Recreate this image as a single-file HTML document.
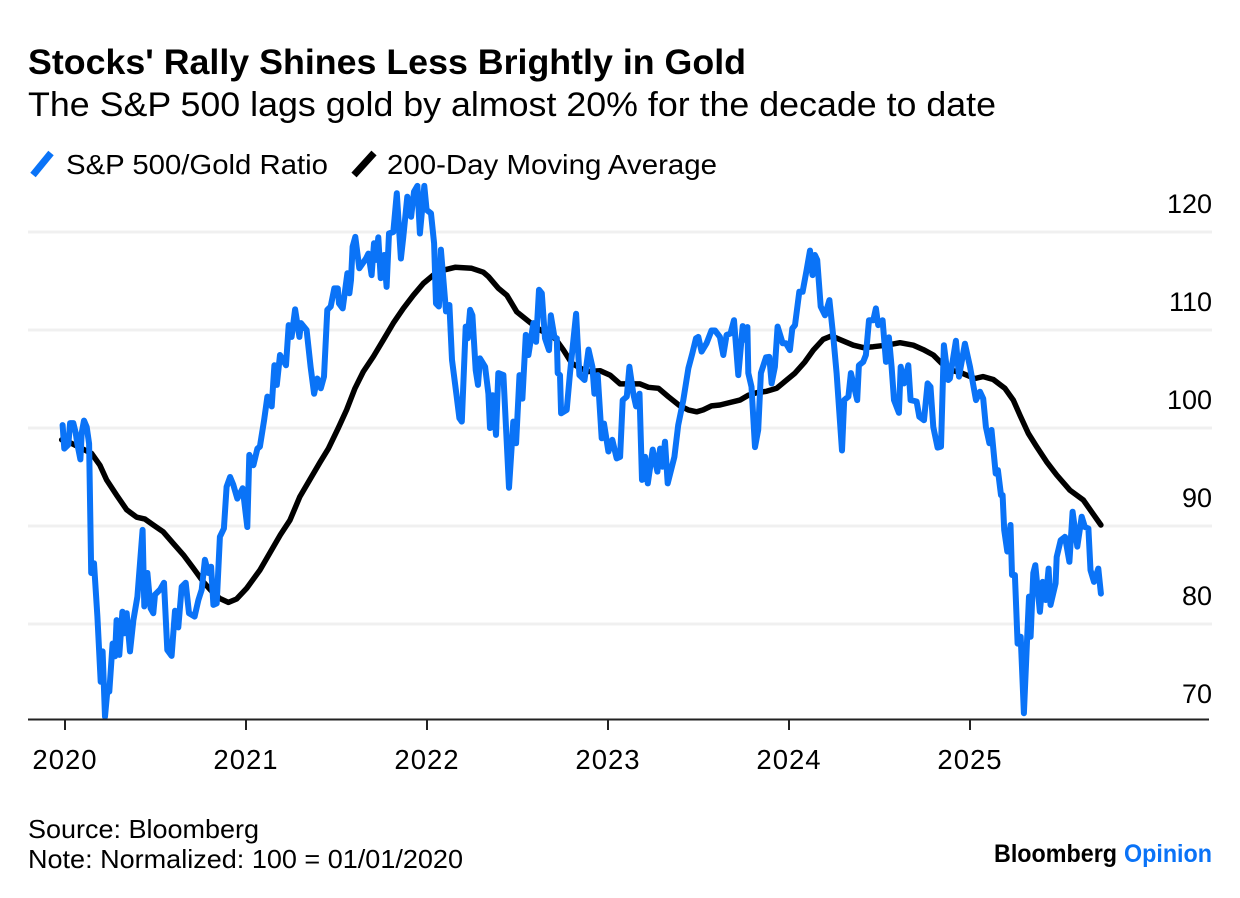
<!DOCTYPE html>
<html lang="en">
<head>
<meta charset="utf-8">
<title>Stocks' Rally Shines Less Brightly in Gold</title>
<style>
html,body{margin:0;padding:0;background:#fff;}
svg{display:block;font-family:"Liberation Sans",sans-serif;fill:#000;}
</style>
</head>
<body>
<svg id="chart" xmlns="http://www.w3.org/2000/svg" width="1240" height="898" viewBox="0 0 1240 898">
  <rect x="0" y="0" width="1240" height="898" fill="#ffffff"/>
  <text x="28" y="74" font-size="35.5" font-weight="700" textLength="718" lengthAdjust="spacingAndGlyphs">Stocks' Rally Shines Less Brightly in Gold</text>
  <text x="28" y="116" font-size="34" textLength="968" lengthAdjust="spacingAndGlyphs">The S&amp;P 500 lags gold by almost 20% for the decade to date</text>

  <g>
    <line x1="33" y1="175" x2="51" y2="153" stroke="#0a73f7" stroke-width="7"/>
    <text x="66" y="174" font-size="28" textLength="262" lengthAdjust="spacingAndGlyphs">S&amp;P 500/Gold Ratio</text>
    <line x1="354" y1="175" x2="374" y2="153" stroke="#000000" stroke-width="7"/>
    <text x="387" y="174" font-size="28" textLength="330" lengthAdjust="spacingAndGlyphs">200-Day Moving Average</text>
  </g>

  <g id="grid"></g>
  <g id="yLabels"></g>
  <polyline id="avgLine" fill="none" stroke="#000000" stroke-width="5.5" stroke-linejoin="round" stroke-linecap="round"/>
  <polyline id="ratioLine" fill="none" stroke="#0a73f7" stroke-width="6" stroke-linejoin="round" stroke-linecap="round"/>
  <line x1="28" y1="719.5" x2="1209" y2="719.5" stroke="#222222" stroke-width="2"/>
  <g id="xTicks"></g>
  <g id="xLabels"></g>

  <text x="28" y="838" font-size="26" textLength="231" lengthAdjust="spacingAndGlyphs">Source: Bloomberg</text>
  <text x="28" y="868" font-size="26" textLength="435" lengthAdjust="spacingAndGlyphs">Note: Normalized: 100 = 01/01/2020</text>
  <text x="994" y="862" font-size="25" font-weight="700" textLength="123" lengthAdjust="spacingAndGlyphs">Bloomberg</text>
  <text x="1124" y="862" font-size="25" font-weight="700" fill="#0a73f7" textLength="88" lengthAdjust="spacingAndGlyphs">Opinion</text>
</svg>
<script>
const yTickValues = [120, 110, 100, 90, 80, 70];
const gridValues = [120, 110, 100, 90, 80];
const xTickYears = [2020, 2021, 2022, 2023, 2024, 2025];

const ratioYears = [-0.013,-0.004,0.018,0.028,0.046,0.059,0.068,0.085,0.092,0.105,0.120,0.133,0.145,0.160,0.179,0.197,0.208,0.221,0.234,0.245,0.263,0.276,0.285,0.300,0.317,0.328,0.341,0.359,0.378,0.400,0.429,0.438,0.455,0.473,0.488,0.497,0.525,0.547,0.565,0.589,0.608,0.626,0.645,0.667,0.685,0.716,0.737,0.755,0.773,0.792,0.807,0.820,0.838,0.856,0.878,0.893,0.912,0.930,0.952,0.982,1.007,1.018,1.041,1.063,
1.077,1.100,1.118,1.142,1.157,1.170,1.188,1.221,1.236,1.252,1.271,1.295,1.304,1.335,1.357,1.376,1.394,1.413,1.431,1.449,1.468,1.488,1.507,1.514,1.534,1.560,1.571,1.580,1.589,1.604,1.626,1.663,1.676,1.694,1.707,1.718,1.731,1.744,1.763,1.777,1.790,1.814,1.833,1.856,1.869,1.891,1.912,1.928,1.947,1.961,1.985,1.998,2.022,2.039,2.050,2.066,2.077,2.105,2.124,2.138,2.164,2.179,2.192,2.214,2.225,2.238,2.251,2.269,2.282,2.293,2.321,2.339,2.348,2.363,2.381,2.394,
2.422,2.453,2.477,2.492,2.511,2.527,2.546,2.560,2.588,2.603,2.619,2.634,2.652,2.674,2.684,2.704,2.717,2.722,2.735,2.741,2.772,2.790,2.824,2.842,2.870,2.892,2.914,2.925,2.943,2.965,2.978,3.002,3.024,3.048,3.067,3.081,3.104,3.118,3.140,3.155,3.174,3.188,3.205,3.220,3.247,3.273,3.288,3.301,3.315,3.330,3.367,
3.388,3.416,3.444,3.466,3.486,3.499,3.517,3.545,3.572,3.591,3.618,3.637,3.655,3.677,3.696,3.720,3.744,3.757,3.770,3.775,3.793,3.812,3.830,3.845,3.873,3.891,3.904,3.922,3.937,3.965,3.983,4.005,4.018,4.033,4.057,4.075,4.097,4.116,4.130,4.143,4.156,4.175,4.199,4.223,4.245,4.263,4.293,4.305,4.328,4.342,4.377,4.386,4.410,4.425,4.442,4.466,4.480,4.493,4.517,4.536,4.552,4.567,4.580,4.607,4.617,4.635,4.659,4.672,4.705,4.720,
4.746,4.766,4.782,4.797,4.821,4.840,4.856,4.880,4.889,4.922,4.939,4.972,5.000,5.033,5.055,5.073,5.088,5.107,5.119,5.142,5.154,5.171,5.180,5.189,5.206,5.224,5.232,5.248,5.263,5.280,5.298,5.316,5.326,5.335,5.350,5.361,5.386,5.401,5.418,5.434,5.445,5.473,5.479,5.501,5.525,5.549,5.567,5.593,5.617,5.635,5.654,5.666,5.685,5.709,5.723];

const ratioValues = [100.3,97.9,98.3,100.5,100.5,99.5,98.4,96.8,99.5,100.75,100.1,98.4,85.2,86.2,80.75,74.1,77.2,70.55,73.25,73.1,78.0,76.7,80.4,76.85,81.25,79.05,81.1,77.2,80.4,82.8,89.6,81.8,85.2,81.6,81.1,83.0,83.5,84.2,77.35,76.75,81.35,79.65,83.8,84.2,81.1,80.75,82.45,83.5,86.55,85.2,85.85,81.95,82.1,88.9,89.75,94.0,95.0,94.2,92.8,93.85,89.9,97.25,96.2,97.9,
98.1,100.8,103.2,102.2,106.4,104.4,107.45,106.4,110.5,109.3,112.1,109.3,110.7,110.0,106.25,103.5,105.05,104.05,105.25,112.05,112.4,114.25,114.25,112.7,112.2,115.8,113.75,115.1,118.5,119.5,116.3,117.3,117.8,115.6,118.85,117.15,119.45,115.3,117.65,114.4,119.85,120.0,123.95,117.3,119.5,123.6,121.55,124.1,124.7,119.85,124.7,122.25,121.9,118.85,112.7,112.4,118.2,111.9,112.55,106.95,103.2,101.0,100.65,110.35,109.15,112.05,111.5,105.9,104.4,107.1,106.25,103.5,100.0,103.35,99.3,105.6,
105.4,93.9,100.65,98.45,105.4,103.0,109.5,107.45,110.7,108.8,114.1,113.75,109.15,107.95,111.5,109.3,109.15,105.6,105.4,101.5,101.85,105.6,111.65,105.4,104.9,108.0,106.25,103.5,105.4,98.95,100.45,97.6,98.8,96.9,97.05,102.85,103.2,106.25,103.5,102.2,103.5,94.7,97.05,94.35,97.8,95.55,97.9,96.05,98.6,94.35,97.05,
100.3,102.85,106.1,107.6,109.15,109.3,107.8,108.65,109.95,109.95,109.3,107.45,109.5,109.65,111.0,105.4,110.4,109.0,110.3,105.6,104.2,98.05,99.8,105.6,107.2,107.25,104.55,106.25,110.35,108.65,108.65,107.95,110.15,110.5,113.9,113.9,116.1,118.1,115.6,117.65,117.15,112.4,111.5,113.05,109.3,105.6,97.7,102.85,103.2,105.6,102.85,106.4,106.75,107.45,111.0,111.0,112.2,110.5,111.0,106.75,109.25,106.25,102.85,101.55,106.25,104.55,106.4,102.85,102.7,101.15,
100.8,104.55,104.2,100.1,98.0,98.1,108.45,104.9,105.05,108.9,105.25,108.6,106.25,102.85,103.7,103.0,100.1,98.45,99.8,95.35,95.7,93.15,93.15,89.6,87.4,90.1,85.0,85.0,78.0,78.7,70.9,78.7,82.8,78.7,85.2,86.0,81.25,84.3,82.45,85.65,81.95,84.15,86.85,88.55,88.9,86.35,91.45,87.9,90.95,89.9,89.75,85.5,84.3,85.65,83.1];

const avgYears = [-0.018,0.028,0.110,0.147,0.193,0.230,0.285,0.341,0.396,0.442,0.488,0.543,0.599,0.654,0.709,0.764,0.820,0.856,0.902,0.948,1.004,1.077,1.190,1.243,1.298,1.409,1.455,1.510,1.556,1.602,1.648,1.704,1.759,1.814,1.869,1.925,1.980,2.035,2.090,2.155,2.247,2.311,2.339,2.395,2.441,2.496,2.570,2.625,2.708,2.754,2.800,2.883,2.956,3.011,3.067,3.177,3.223,3.279,3.333,3.397,3.443,3.490,3.526,3.572,3.618,3.674,3.729,3.775,3.821,3.876,3.932,3.978,4.033,4.088,4.134,4.189,4.235,4.291,4.355,4.410,4.466,4.539,4.613,4.687,4.742,4.797,4.843,4.898,4.954,5.027,5.073,5.129,5.193,5.239,5.276,5.322,5.368,5.423,5.479,5.552,5.626,5.672,5.723];

const avgValues = [98.8,98.5,97.75,97.4,96.2,94.7,93.15,91.65,90.9,90.7,90.1,89.4,88.2,87.05,85.7,84.3,83.15,82.6,82.2,82.55,83.65,85.5,89.1,90.6,93.0,96.5,97.9,100.0,101.85,104.05,105.75,107.3,109.0,110.7,112.2,113.55,114.75,115.6,116.1,116.4,116.3,115.9,115.45,114.25,113.55,111.85,110.75,110.0,109.15,107.95,106.6,105.75,105.85,105.4,104.5,104.5,104.15,104.05,103.2,102.25,101.85,101.65,101.85,102.25,102.35,102.6,102.85,103.35,103.6,103.75,104.05,104.75,105.6,106.75,107.95,109.05,109.4,108.95,108.45,108.2,108.3,108.45,108.7,108.45,108.0,107.45,106.6,105.9,105.6,105.05,105.25,104.95,104.05,102.85,101.3,99.45,98.1,96.55,95.2,93.65,92.65,91.45,90.1];

const SVG_NS = 'http://www.w3.org/2000/svg';

function xScale(yearOffset) {
  return 65 + 181 * yearOffset;
}
function yScale(value) {
  return 428 - (value - 100) * 9.8;
}
function linePoints(years, values) {
  return years.map(function (t, i) {
    return xScale(t).toFixed(1) + ',' + yScale(values[i]).toFixed(1);
  }).join(' ');
}

document.getElementById('ratioLine').setAttribute('points', linePoints(ratioYears, ratioValues));
document.getElementById('avgLine').setAttribute('points', linePoints(avgYears, avgValues));

const gridGroup = document.getElementById('grid');
gridValues.forEach(function (v) {
  const g = document.createElementNS(SVG_NS, 'line');
  
  
  g.setAttribute('x1', 28);
  g.setAttribute('x2', 1212);
  g.setAttribute('y1', yScale(v));
  g.setAttribute('y2', yScale(v));
  g.setAttribute('stroke', '#f0f0f0');
  g.setAttribute('stroke-width', 3);
  gridGroup.appendChild(g);
});

const yLabelGroup = document.getElementById('yLabels');
yTickValues.forEach(function (v) {
  const t = document.createElementNS(SVG_NS, 'text');
  
  
  t.setAttribute('x', 1212);
  t.setAttribute('y', yScale(v) - 19);
  t.setAttribute('text-anchor', 'end');
  t.setAttribute('font-size', 27);
  t.textContent = String(v);
  yLabelGroup.appendChild(t);
});

const xTickGroup = document.getElementById('xTicks');
const xLabelGroup = document.getElementById('xLabels');
xTickYears.forEach(function (year) {
  const px = xScale(year - 2020);
  const tick = document.createElementNS(SVG_NS, 'line');
  
  
  tick.setAttribute('x1', px);
  tick.setAttribute('x2', px);
  tick.setAttribute('y1', 720);
  tick.setAttribute('y2', 730);
  tick.setAttribute('stroke', '#222222');
  tick.setAttribute('stroke-width', 2);
  xTickGroup.appendChild(tick);
  const label = document.createElementNS(SVG_NS, 'text');
  
  
  label.setAttribute('x', px);
  label.setAttribute('y', 769);
  label.setAttribute('text-anchor', 'middle');
  label.setAttribute('font-size', 27.5);
  label.setAttribute('letter-spacing', '1');
  label.textContent = String(year);
  xLabelGroup.appendChild(label);
});
</script>
</body>
</html>
